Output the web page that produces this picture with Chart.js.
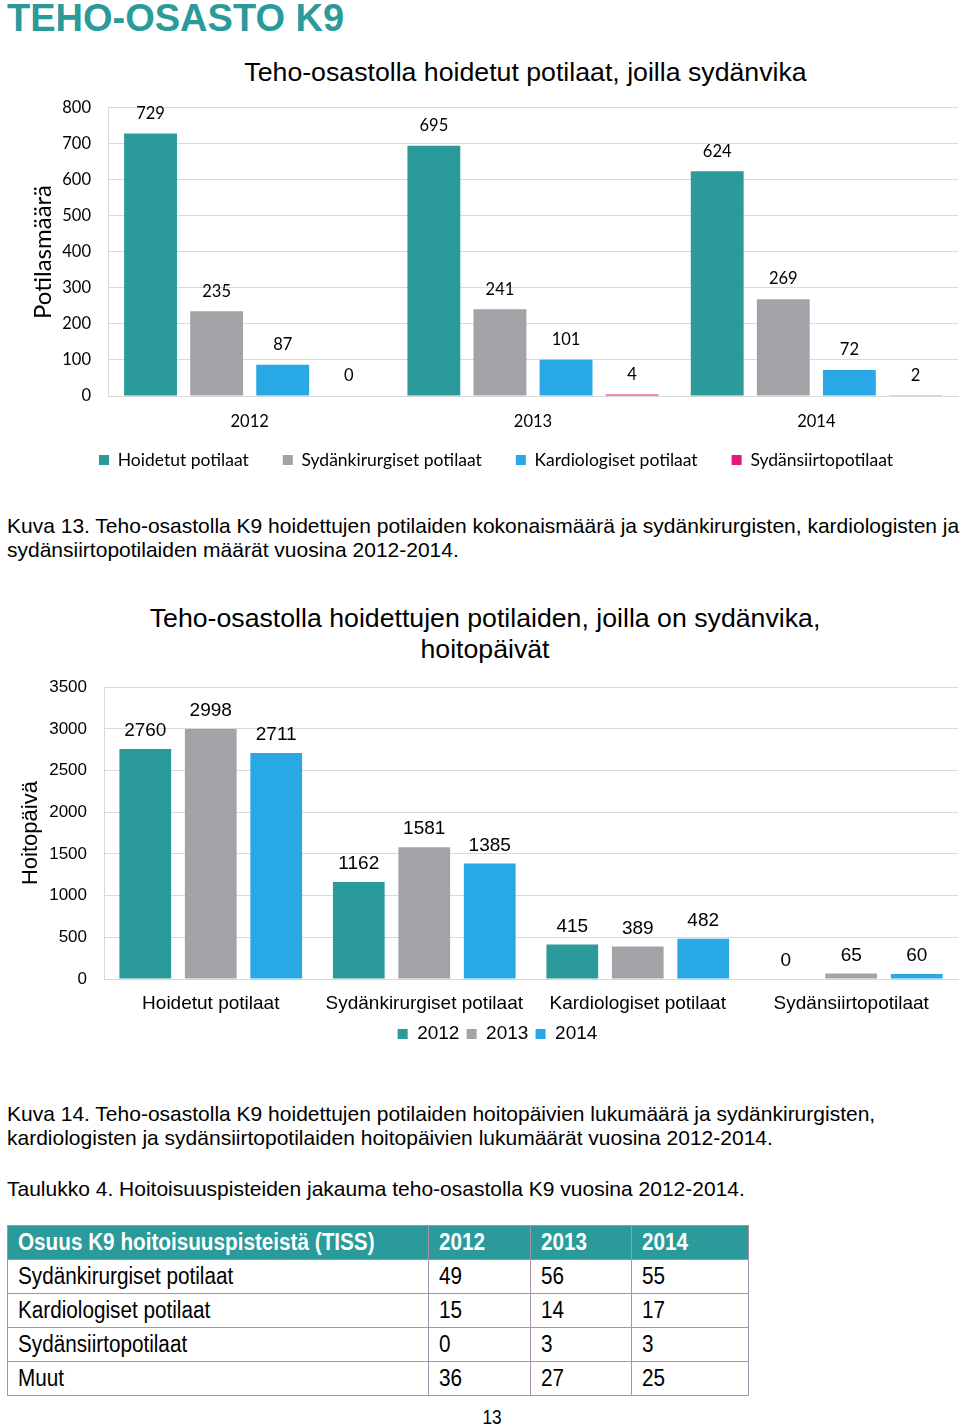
<!DOCTYPE html>
<html>
<head>
<meta charset="utf-8">
<script src="https://cdn.jsdelivr.net/npm/chart.js@4.4.0/dist/chart.umd.min.js"></script>
<style>
  html, body { margin: 0; padding: 0; background: #fff; }
  body { width: 960px; height: 1425px; position: relative; overflow: hidden; font-family: "Liberation Sans", Arial, sans-serif; color: #000; }
  .abs { position: absolute; white-space: nowrap; }
  #pageTitle { left: 7px; top: -0.6px; font-size: 38px; line-height: 1; font-weight: bold; color: #2A9A9A; }
  .ctitle { font-size: 26.7px; line-height: 31px; text-align: center; transform: translateX(-50%); }
  .caption { left: 7px; font-size: 21px; line-height: 24px; }
  canvas { position: absolute; left: 0; }
  #tbl { position: absolute; left: 7px; top: 1225px; border-collapse: collapse; table-layout: fixed; }
  #tbl td { border: 1px solid #A593AB; height: 34px; padding: 0 0 0 10px; font-size: 23px; line-height: 1; box-sizing: border-box; overflow: visible; white-space: nowrap; }
  #tbl tr.head td { background: #2A9A9A; color: #fff; font-weight: bold; }
  #tbl span { display: inline-block; transform: scaleX(0.9); transform-origin: 0 50%; }
  #pageNo { left: 492px; top: 1406px; font-size: 21px; line-height: 1; transform: translateX(-50%) scaleX(0.82); }
</style>
</head>
<body>
<div id="pageTitle" class="abs">TEHO-OSASTO K9</div>

<div class="abs ctitle" style="left:525.5px; top:57.2px;">Teho-osastolla hoidetut potilaat, joilla sydänvika</div>
<canvas id="c1" width="960" height="399" style="top:81px;"></canvas>

<div class="abs caption" style="top:513.7px;">Kuva 13. Teho-osastolla K9 hoidettujen potilaiden kokonaismäärä ja sydänkirurgisten, kardiologisten ja<br>sydänsiirtopotilaiden määrät vuosina 2012-2014.</div>

<div class="abs ctitle" style="left:485px; top:603.2px;">Teho-osastolla hoidettujen potilaiden, joilla on sydänvika,<br>hoitopäivät</div>
<canvas id="c2" width="960" height="396" style="top:660px;"></canvas>

<div class="abs caption" style="top:1101.7px;">Kuva 14. Teho-osastolla K9 hoidettujen potilaiden hoitopäivien lukumäärä ja sydänkirurgisten,<br>kardiologisten ja sydänsiirtopotilaiden hoitopäivien lukumäärät vuosina 2012-2014.</div>

<div class="abs caption" style="top:1176.7px;">Taulukko 4. Hoitoisuuspisteiden jakauma teho-osastolla K9 vuosina 2012-2014.</div>

<table id="tbl"></table>
<div id="pageNo" class="abs">13</div>

<script>
// ---------- Chart 1 data ----------
const years = ['2012', '2013', '2014'];
const hoidetut = [729, 695, 624];
const sydankirurgiset = [235, 241, 269];
const kardiologiset = [87, 101, 72];
const sydansiirto = [0, 4, 2];
const chart1Ticks = [0, 100, 200, 300, 400, 500, 600, 700, 800];

// ---------- Chart 2 data ----------
const groups2 = ['Hoidetut potilaat', 'Sydänkirurgiset potilaat', 'Kardiologiset potilaat', 'Sydänsiirtopotilaat'];
const days2012 = [2760, 1162, 415, 0];
const days2013 = [2998, 1581, 389, 65];
const days2014 = [2711, 1385, 482, 60];
const chart2Ticks = [0, 500, 1000, 1500, 2000, 2500, 3000, 3500];

// ---------- Table data ----------
const tableHeader = ['Osuus K9 hoitoisuuspisteistä (TISS)', '2012', '2013', '2014'];
const tableRows = ['Sydänkirurgiset potilaat', 'Kardiologiset potilaat', 'Sydänsiirtopotilaat', 'Muut'];
const tiss2012 = [49, 15, 0, 36];
const tiss2013 = [56, 14, 3, 27];
const tiss2014 = [55, 17, 3, 25];

const TEAL = '#2A9A9A', GREY = '#A2A3A6', BLUE = '#29A8E6', PINK = '#E2177E';
const GRID = '#D9D9D9';

// build table
(function () {
  const tbl = document.getElementById('tbl');
  const widths = [421, 102, 101, 117];
  const cg = document.createElement('colgroup');
  widths.forEach(w => { const c = document.createElement('col'); c.style.width = w + 'px'; cg.appendChild(c); });
  tbl.appendChild(cg);
  const mk = (cells, cls) => {
    const tr = document.createElement('tr');
    if (cls) tr.className = cls;
    cells.forEach(t => { const td = document.createElement('td'); const s = document.createElement('span'); s.textContent = t; td.appendChild(s); tr.appendChild(td); });
    tbl.appendChild(tr);
  };
  mk(tableHeader, 'head');
  tableRows.forEach((r, i) => mk([r, tiss2012[i], tiss2013[i], tiss2014[i]]));
})();

const valueLabels = {
  id: 'valueLabels',
  afterDatasetsDraw(chart, args, opts) {
    const ctx = chart.ctx;
    ctx.save();
    ctx.font = opts.font;
    ctx.fillStyle = opts.color || '#000';
    ctx.textAlign = 'center';
    ctx.textBaseline = 'middle';
    chart.data.datasets.forEach((ds, i) => {
      const meta = chart.getDatasetMeta(i);
      meta.data.forEach((bar, j) => {
        ctx.fillText(String(ds.data[j]), bar.x, bar.y - opts.offset);
      });
    });
    ctx.restore();
  }
};

const plain = v => String(v);

const f1 = 'Lato';
new Chart(document.getElementById('c1'), {
  type: 'bar',
  data: {
    labels: years,
    datasets: [
      { label: 'Hoidetut potilaat', data: hoidetut, backgroundColor: TEAL },
      { label: 'Sydänkirurgiset potilaat', data: sydankirurgiset, backgroundColor: GREY },
      { label: 'Kardiologiset potilaat', data: kardiologiset, backgroundColor: BLUE },
      { label: 'Sydänsiirtopotilaat', data: sydansiirto, backgroundColor: PINK }
    ]
  },
  options: {
    responsive: false, animation: false, devicePixelRatio: 1,
    datasets: { bar: { categoryPercentage: 0.933, barPercentage: 0.8, borderWidth: 0 } },
    layout: { padding: { left: 34, right: 2, top: 0, bottom: 1.25 } },
    plugins: {
      title: { display: false },
      tooltip: { enabled: false },
      legend: {
        position: 'bottom',
        title: { display: true, text: '', font: { size: 1, lineHeight: 1 }, padding: { top: -15.75, bottom: 0 } },
        labels: { boxWidth: 10, boxHeight: 10, padding: 34, color: '#000', font: { family: f1, size: 17.5 } }
      },
      valueLabels: { font: '16.5px Lato', color: '#000', offset: 20 }
    },
    scales: {
      x: {
        grid: { display: false, drawTicks: false },
        border: { display: true, color: GRID, width: 1 },
        ticks: { padding: 15.8, color: '#000', font: { family: f1, size: 16.5 }, autoSkip: false, maxRotation: 0 },
        afterFit(s) { s.height = 36; }
      },
      y: {
        min: 0, max: 800,
        afterBuildTicks(s) { s.ticks = chart1Ticks.map(v => ({ value: v })); },
        grid: { color: GRID, drawTicks: false },
        border: { display: true, color: GRID, width: 1 },
        ticks: { padding: 17, color: '#000', font: { family: f1, size: 16.5 }, callback: plain },
        title: { display: true, text: 'Potilasmäärä', color: '#000', font: { family: f1, size: 24, lineHeight: 1 }, padding: { top: -3, bottom: 0 } },
        afterFit(s) { s.width = 74; }
      }
    }
  },
  plugins: [valueLabels]
});

const f2 = 'Liberation Sans';
new Chart(document.getElementById('c2'), {
  type: 'bar',
  data: {
    labels: groups2,
    datasets: [
      { label: '2012', data: days2012, backgroundColor: TEAL },
      { label: '2013', data: days2013, backgroundColor: GREY },
      { label: '2014', data: days2014, backgroundColor: BLUE }
    ]
  },
  options: {
    responsive: false, animation: false, devicePixelRatio: 1,
    datasets: { bar: { categoryPercentage: 0.92, barPercentage: 0.79, borderWidth: 0 } },
    layout: { padding: { left: 37, right: 2, top: 0, bottom: 2.5 } },
    plugins: {
      title: { display: false },
      tooltip: { enabled: false },
      legend: {
        position: 'bottom',
        labels: { boxWidth: 10, boxHeight: 10, padding: 7.2, color: '#000', font: { family: f2, size: 19 } }
      },
      valueLabels: { font: '19px "Liberation Sans"', color: '#000', offset: 18 }
    },
    scales: {
      x: {
        grid: { display: false, drawTicks: false },
        border: { display: true, color: GRID, width: 1 },
        ticks: { padding: 13.2, color: '#000', font: { family: f2, size: 19 }, maxRotation: 0, autoSkip: false },
        afterFit(s) { s.height = 38.3; }
      },
      y: {
        min: 0, max: 3500,
        afterBuildTicks(s) { s.ticks = chart2Ticks.map(v => ({ value: v })); },
        grid: { color: GRID, drawTicks: false },
        border: { display: true, color: GRID, width: 1 },
        ticks: { padding: 17, color: '#000', font: { family: f2, size: 17 }, callback: plain },
        title: { display: true, text: 'Hoitopäivä', color: '#000', font: { family: f2, size: 22, lineHeight: 1 }, padding: { top: -17, bottom: 0 } },
        afterFit(s) { s.width = 67; }
      }
    }
  },
  plugins: [valueLabels]
});
</script>
</body>
</html>
